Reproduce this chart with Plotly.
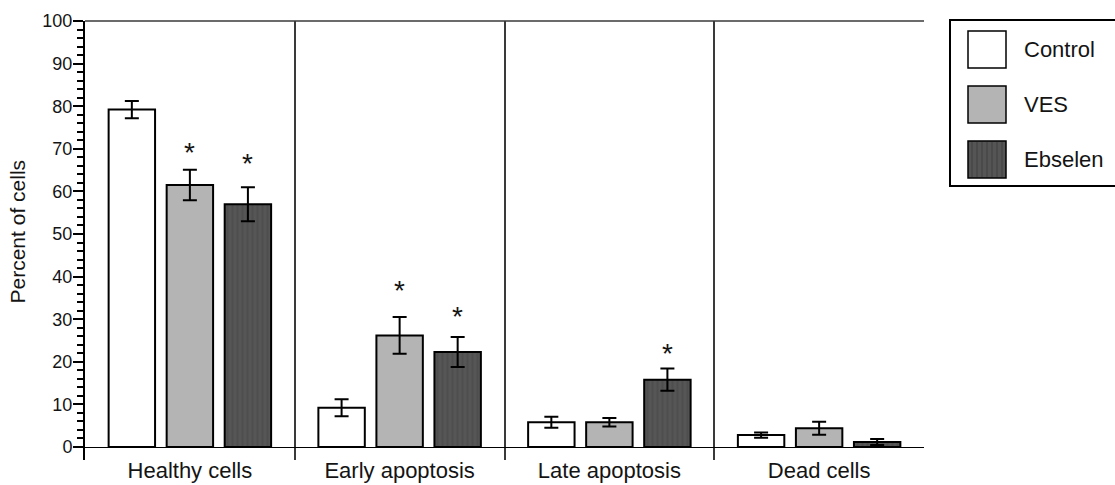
import plotly.graph_objects as go

categories = ["Healthy cells", "Early apoptosis", "Late apoptosis", "Dead cells"]
series_names = ["Control", "VES", "Ebselen"]
control_vals = [79.2, 9.2, 5.8, 2.8]
control_err = [2.0, 2.0, 1.3, 0.6]
ves_vals = [61.5, 26.2, 5.8, 4.4]
ves_err = [3.6, 4.3, 1.0, 1.5]
ebselen_vals = [57.0, 22.3, 15.8, 1.2]
ebselen_err = [4.0, 3.5, 2.6, 0.7]
# height (percent) at which the significance star is printed; None = not significant
control_star = [None, None, None, None]
ves_star = [70.0, 37.6, None, None]
ebselen_star = [67.4, 31.5, 23.0, None]
y_ticks = list(range(0, 101, 10))
y_title = "Percent of cells"

W, H = 1115, 485
ML, MR, MT, MB = 85, 0, 21, 25
plot_px_w = 839
paper_w = W - ML - MR
paper_h = H - MT - MB
xdom = plot_px_w / paper_w
bargap = 0.17
bargroupgap = 0.2

FONT = "Arial, 'Liberation Sans', sans-serif"
TXT = "#141414"

values = [control_vals, ves_vals, ebselen_vals]
errors = [control_err, ves_err, ebselen_err]
stars = [control_star, ves_star, ebselen_star]
fills = ["#ffffff", "#b4b4b4", "#555555"]

fig = go.Figure()
for i, name in enumerate(series_names):
    marker = dict(color=fills[i], line=dict(color="black", width=2))
    if i == 2:
        marker["pattern"] = dict(shape="|", bgcolor="#565656", fgcolor="#454545",
                                 size=5, solidity=0.4)
    fig.add_trace(go.Bar(
        x=categories, y=values[i], name=name, marker=marker, showlegend=False,
        error_y=dict(type="data", array=errors[i], color="black", thickness=2, width=7),
    ))

# significance stars, placed on each bar's slot
px_per_cat = plot_px_w / len(categories)
slot_px = (1 - bargap) / len(series_names) * px_per_cat
for i in range(len(series_names)):
    shift = (i - (len(series_names) - 1) / 2) * slot_px
    for c, sy in zip(categories, stars[i]):
        if sy is None:
            continue
        fig.add_annotation(x=c, y=sy, xref="x", yref="y", text="*", showarrow=False,
                           xshift=shift, yshift=-4, yanchor="middle",
                           font=dict(family=FONT, size=28, color=TXT))

shapes = []
# top border
shapes.append(dict(type="line", xref="paper", yref="paper", x0=0, x1=xdom, y0=1, y1=1,
                   line=dict(color="#3a3a3a", width=1.5)))


def px_x(p):
    return (p - ML) / paper_w


def px_y(p):
    return (H - MB - p) / paper_h


# manual legend
shapes.append(dict(type="rect", xref="paper", yref="paper",
                   x0=px_x(950), x1=px_x(1125), y0=px_y(186), y1=px_y(20),
                   line=dict(color="black", width=2), fillcolor="white"))
sw_tops = [31, 86, 141]
for i, name in enumerate(series_names):
    t = sw_tops[i]
    shapes.append(dict(type="rect", xref="paper", yref="paper",
                       x0=px_x(968), x1=px_x(1006), y0=px_y(t + 37), y1=px_y(t),
                       line=dict(color="black", width=1.5), fillcolor=fills[i]))
    if i == 2:
        for k in range(972, 1004, 5):
            shapes.append(dict(type="line", xref="paper", yref="paper",
                               x0=px_x(k), x1=px_x(k), y0=px_y(t + 36), y1=px_y(t + 1),
                               line=dict(color="#474747", width=1.5)))
    fig.add_annotation(xref="paper", yref="paper", x=px_x(1022), y=px_y(t + 18.5),
                       text=name, showarrow=False, xanchor="left", yanchor="middle",
                       font=dict(family=FONT, size=22, color=TXT))

# y-axis title
fig.add_annotation(xref="paper", yref="paper", x=px_x(17.5), y=px_y(232),
                   text=y_title, textangle=-90, showarrow=False,
                   xanchor="center", yanchor="middle",
                   font=dict(family=FONT, size=21, color=TXT))

fig.update_layout(
    width=W, height=H, autosize=False,
    margin=dict(l=ML, r=MR, t=MT, b=MB, pad=0),
    paper_bgcolor="white", plot_bgcolor="white",
    barmode="group", bargap=bargap, bargroupgap=bargroupgap,
    shapes=shapes,
    font=dict(family=FONT, color=TXT),
    xaxis=dict(domain=[0, xdom], type="category", range=[-0.5, 3.5], automargin=False,
               tickson="boundaries", ticks="", ticklen=0, ticklabelstandoff=-5,
               showgrid=True, gridcolor="#3a3a3a",
               gridwidth=1.5, showline=False, zeroline=False,
               tickfont=dict(family=FONT, size=22, color=TXT)),
    yaxis=dict(range=[-3.05, 100], tickmode="array", tickvals=y_ticks, automargin=False,
               ticks="outside", ticklen=10, tickwidth=2, tickcolor="black",
               ticklabelstandoff=-3,
               showline=True, linecolor="black", linewidth=2,
               showgrid=False, zeroline=True, zerolinecolor="black", zerolinewidth=1,
               tickfont=dict(family=FONT, size=18, color=TXT),
               minor=dict(tickvals=list(range(0, 101, 2)), ticks="outside", ticklen=6,
                          tickwidth=1.5, tickcolor="black", showgrid=False)),
)

fig.write_html("out.html", config={"displayModeBar": False},
               post_script="document.body.style.margin='0';document.body.style.padding='0';")
